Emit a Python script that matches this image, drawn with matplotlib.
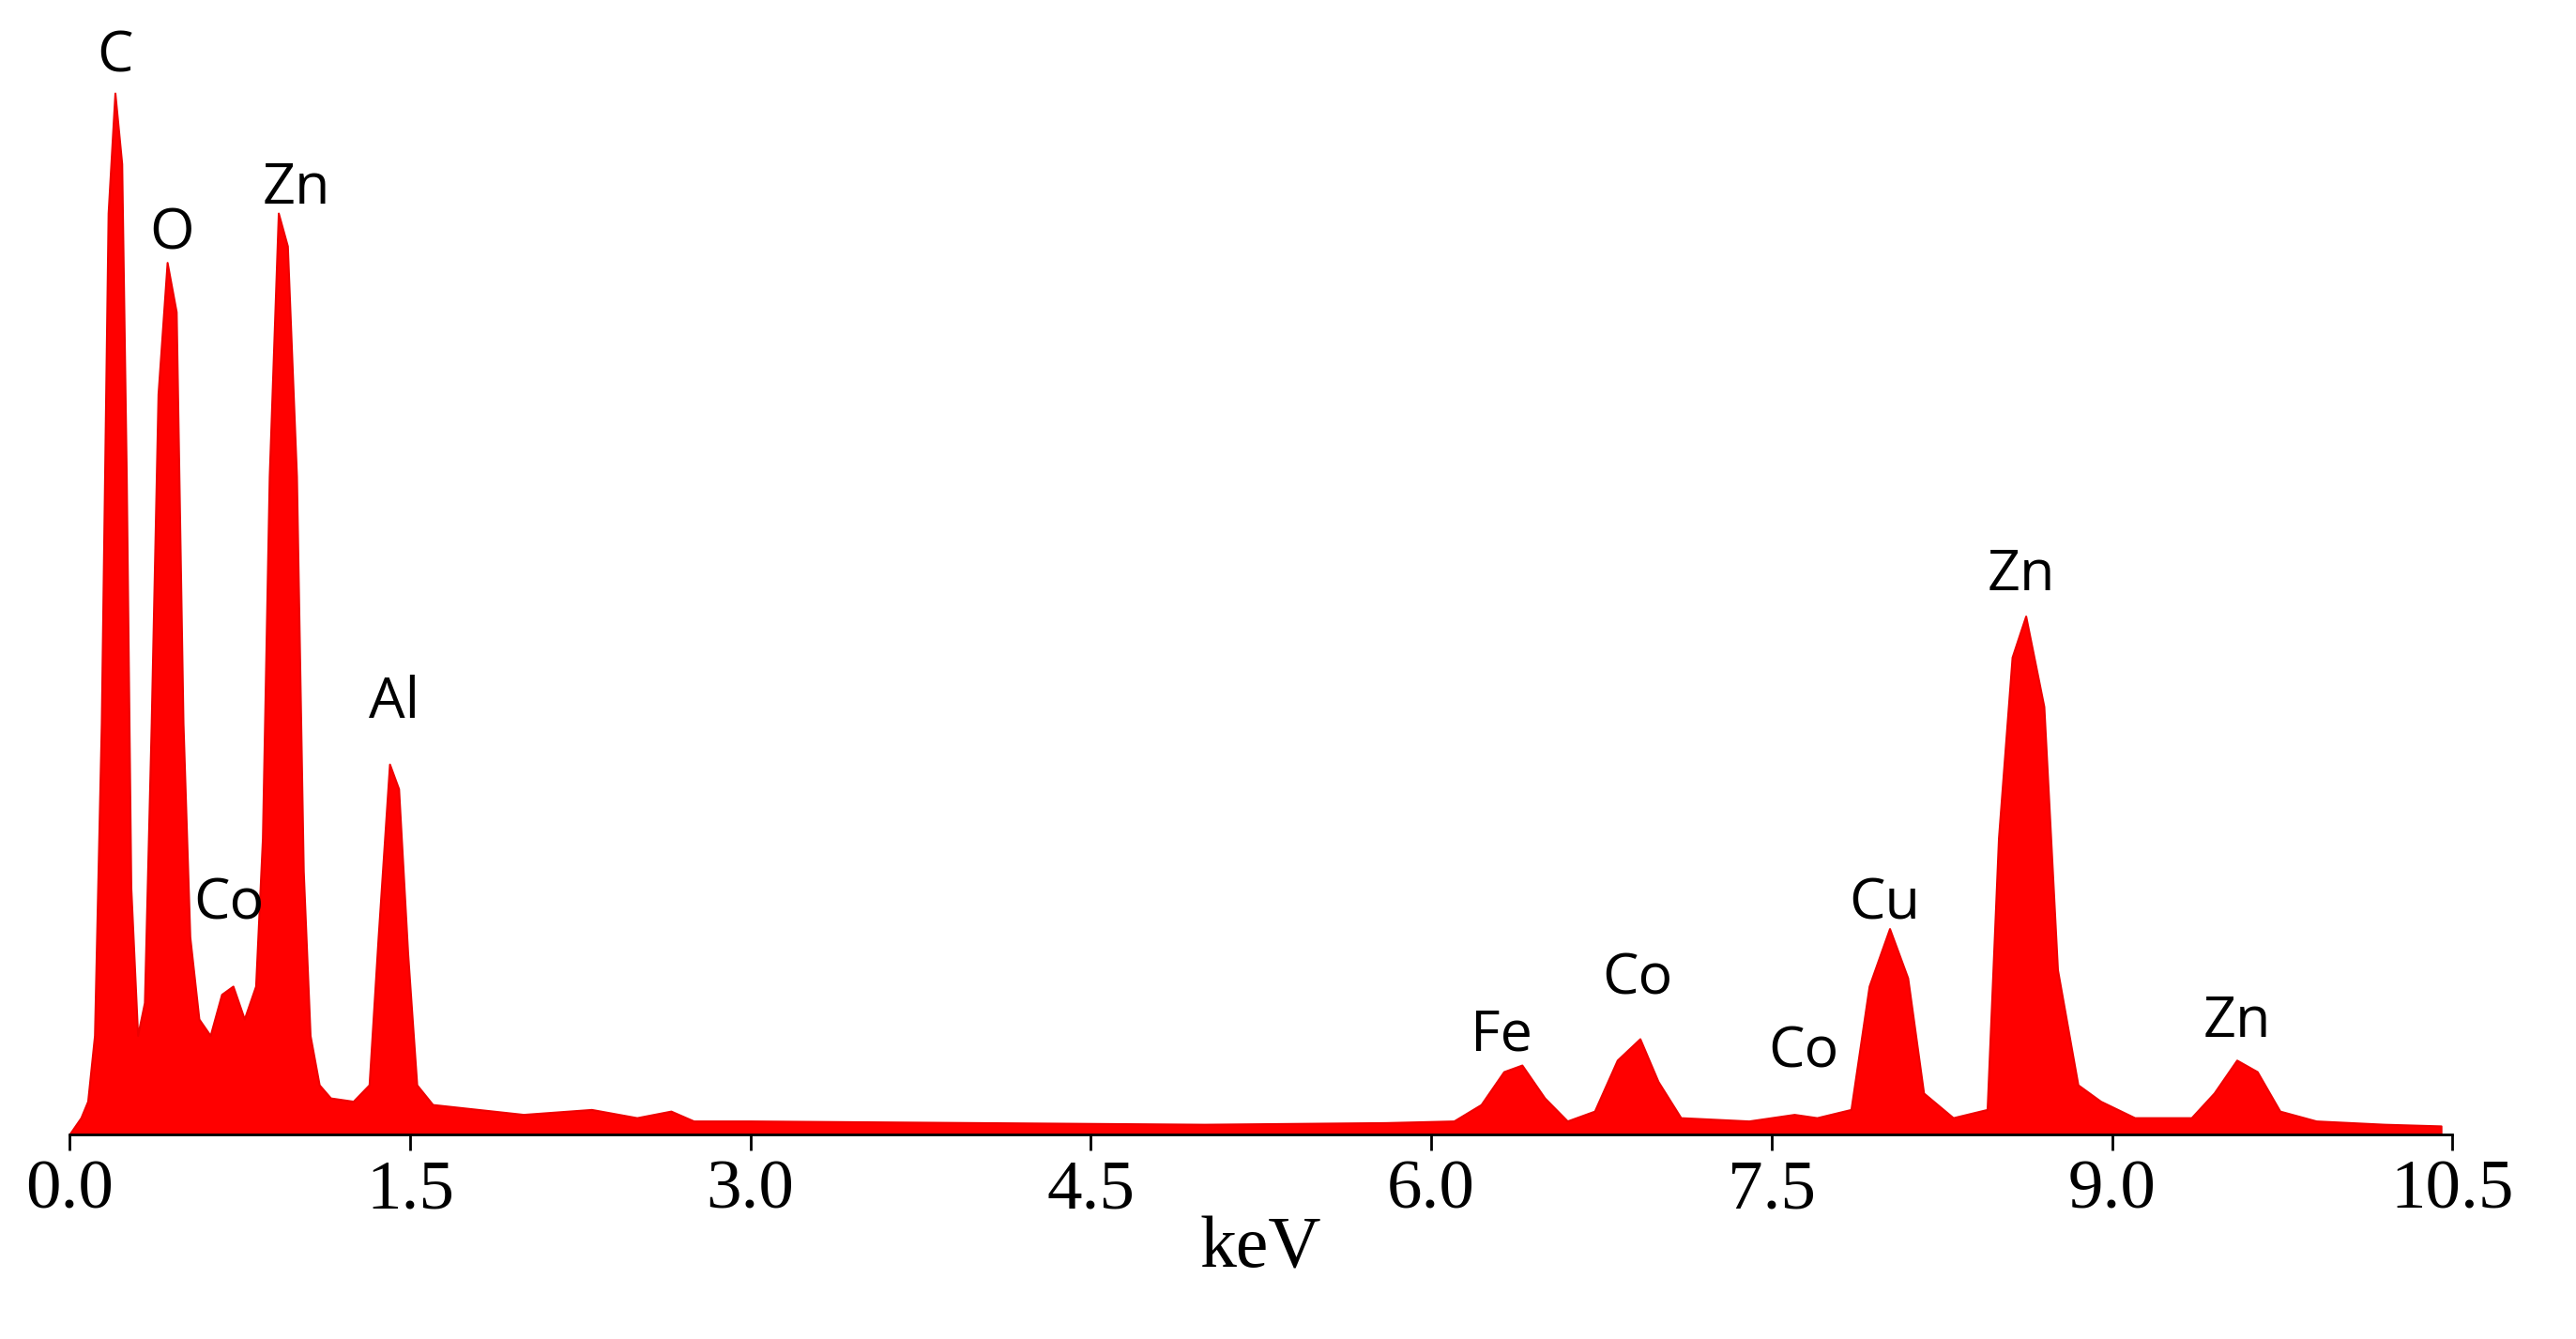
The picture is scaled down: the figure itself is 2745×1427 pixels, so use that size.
import matplotlib
matplotlib.use("Agg")
import matplotlib.pyplot as plt

# EDS spectrum (keV, counts in arbitrary units)
energy = [0.0, 0.05, 0.08, 0.11, 0.14, 0.17, 0.20, 0.23, 0.25, 0.27, 0.30, 0.33, 0.36, 0.39, 0.43,
          0.47, 0.50, 0.53, 0.57, 0.62, 0.67, 0.72, 0.77, 0.82, 0.85, 0.88, 0.92, 0.96, 1.0,
          1.03, 1.06, 1.10, 1.15, 1.25, 1.32, 1.36, 1.41, 1.45, 1.49, 1.53, 1.6, 1.8, 2.0,
          2.3, 2.5, 2.65, 2.75, 3.0, 4.0, 5.0, 5.8, 6.1, 6.22, 6.32, 6.40, 6.50, 6.6, 6.72,
          6.82, 6.92, 7.0, 7.1, 7.4, 7.6, 7.7, 7.85, 7.93, 8.02, 8.10, 8.17, 8.3, 8.45, 8.50,
          8.56, 8.62, 8.70, 8.76, 8.85, 8.95, 9.1, 9.35, 9.45, 9.55, 9.64, 9.74, 9.9, 10.2, 10.45]
counts = [0, 10, 20, 60, 250, 560, 633, 590, 400, 150, 60, 80, 250, 450, 530,
          500, 250, 120, 70, 60, 85, 90, 70, 90, 180, 400, 560, 540, 400,
          160, 60, 30, 22, 20, 30, 120, 225, 210, 110, 30, 18, 15, 12,
          15, 10, 14, 8, 8, 7, 6, 7, 8, 18, 38, 42, 22, 8, 14,
          45, 58, 32, 10, 8, 12, 10, 15, 90, 125, 95, 25, 10, 15, 180,
          290, 315, 260, 100, 30, 20, 10, 10, 25, 45, 38, 14, 8, 6, 5]

labels = ["C", "O", "Zn", "Al", "Co", "Fe", "Co", "Co", "Cu", "Zn", "Zn"]
label_x = [0.20, 0.45, 1.0, 1.43, 0.70, 6.31, 6.91, 7.64, 8.0, 8.6, 9.55]
label_y = [655, 547, 575, 262, 140, 60, 94, 50, 140, 340, 68]

fig = plt.figure(figsize=(27.45, 14.27), dpi=100)
ax = fig.add_axes([0.027, 0.153, 0.925, 0.807])
ax.fill_between(energy, counts, 0, color="#ff0000", linewidth=1.5, edgecolor="#ee0000")
ax.set_xlim(0, 10.5)
ax.set_ylim(0, 657)

for s, x, y in zip(labels, label_x, label_y):
    ax.text(x, y, s, ha="center", va="center", fontsize=44, family="Open Sans")

ax.set_xticks([0, 1.5, 3.0, 4.5, 6.0, 7.5, 9.0, 10.5])
ax.set_xticklabels(["0.0", "1.5", "3.0", "4.5", "6.0", "7.5", "9.0", "10.5"],
                   family="Liberation Serif", fontsize=54)
ax.tick_params(axis="x", length=12, width=2, direction="out", pad=8)
ax.set_yticks([])
for side in ["top", "right", "left"]:
    ax.spines[side].set_visible(False)
ax.spines["bottom"].set_linewidth(2)
ax.set_xlabel("keV", family="Liberation Serif", fontsize=56, labelpad=-6)

fig.savefig("out.png", dpi=100)
